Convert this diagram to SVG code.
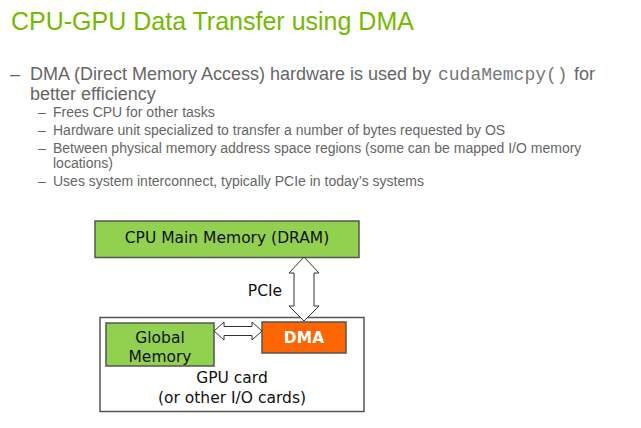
<svg xmlns="http://www.w3.org/2000/svg" width="641" height="428" viewBox="0 0 641 428">
<style>
.title{font-family:"Liberation Sans",Arial,sans-serif;font-size:25px;fill:#76b900}
.b1{font-family:"Liberation Sans",Arial,sans-serif;font-size:18px;fill:#666}
.b2{font-family:"Liberation Sans",Arial,sans-serif;font-size:14px;fill:#666}
.mono{font-family:"Liberation Mono","Courier New",monospace;font-size:18px;fill:#777}
.lbl{font-family:"DejaVu Sans",Tahoma,sans-serif;font-size:15.5px;fill:#111;text-anchor:middle}
.box{stroke:#555;stroke-width:1.5}
.green{fill:#92d050}
.arrow{fill:#fff;stroke:#333;stroke-width:1}
</style>
<rect width="641" height="428" fill="#fff"/>
<text class="title" x="11" y="30">CPU-GPU Data Transfer using DMA</text>
<text class="b1" x="10" y="80">–</text>
<text class="b1" x="30" y="80">DMA (Direct Memory Access) hardware is used by <tspan class="mono" x="438">cudaMemcpy()</tspan><tspan x="574">for</tspan></text>
<text class="b1" x="30" y="100">better efficiency</text>
<g class="b2">
<text class="b2" x="38" y="117">–</text><text class="b2" x="53" y="117">Frees CPU for other tasks</text>
<text class="b2" x="38" y="135">–</text><text class="b2" x="53" y="135">Hardware unit specialized to transfer a number of bytes requested by OS</text>
<text class="b2" x="38" y="153">–</text><text class="b2" x="53" y="153">Between physical memory address space regions (some can be mapped I/O memory</text>
<text class="b2" x="53" y="168">locations)</text>
<text class="b2" x="38" y="186">–</text><text class="b2" x="53" y="186">Uses system interconnect, typically PCIe in today’s systems</text>
</g>
<g id="gpu-card">
<rect class="box" x="100" y="317.5" width="264" height="94" fill="#fff"/>
<text class="lbl" x="232" y="383">GPU card</text>
<text class="lbl" x="232" y="403">(or other I/O cards)</text>
</g>
<g id="cpu-memory">
<rect class="box green" x="95" y="221" width="264" height="36.5"/>
<text class="lbl" x="227" y="243" font-size="16">CPU Main Memory (DRAM)</text>
</g>
<g id="global-memory">
<rect class="box green" x="106" y="323" width="108" height="43"/>
<text class="lbl" x="160" y="343" font-size="14.5">Global</text>
<text class="lbl" x="160" y="362" font-size="14.5">Memory</text>
</g>
<g id="dma">
<rect class="box" x="262" y="322" width="84" height="31" fill="#ff6600"/>
<text class="lbl" x="304" y="343" font-size="16" font-weight="bold" fill="#fff" style="fill:#fff">DMA</text>
</g>
<g id="connectors">
<polygon class="arrow" points="304,257 319,273 314,273 314,306 319,306 304,321 289,306 294,306 294,273 289,273"/>
<polygon class="arrow" points="214,331 224,322 224,326.5 252,326.5 252,322 262,331 252,340 252,335.5 224,335.5 224,340"/>
<text class="lbl" x="265" y="296" font-size="16">PCIe</text>
</g>
</svg>
